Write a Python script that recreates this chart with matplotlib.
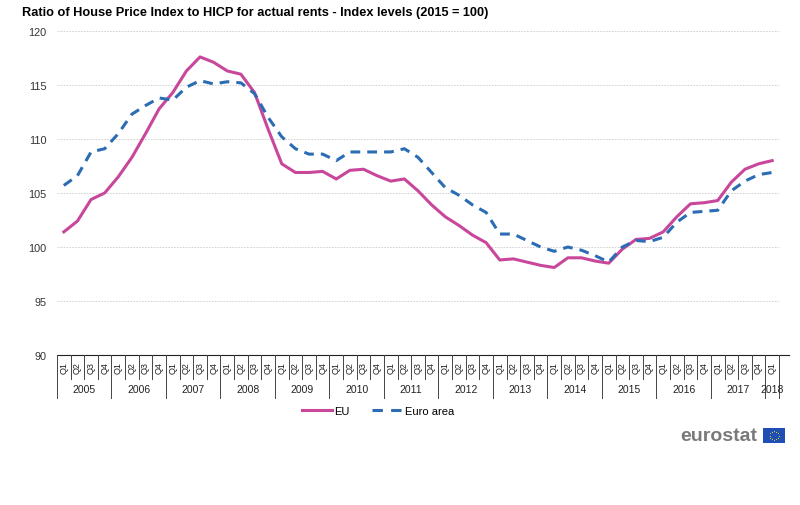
import matplotlib.pyplot as plt
import numpy as np
from matplotlib.lines import Line2D

plt.rcParams['font.family'] = ['Liberation Sans', 'DejaVu Sans']

# 数据：2005Q1 - 2018Q1
years = ['2005', '2006', '2007', '2008', '2009', '2010', '2011', '2012',
         '2013', '2014', '2015', '2016', '2017', '2018']
quarters = ['Q1', 'Q2', 'Q3', 'Q4']

eu = [101.4, 102.4, 104.4, 105.0, 106.5, 108.3, 110.5, 112.8, 114.3, 116.3,
      117.6, 117.1, 116.3, 116.0, 114.3, 110.9, 107.7, 106.9, 106.9, 107.0,
      106.3, 107.1, 107.2, 106.6, 106.1, 106.3, 105.2, 103.9, 102.8, 102.0,
      101.1, 100.4, 98.8, 98.9, 98.6, 98.3, 98.1, 99.0, 99.0, 98.7,
      98.5, 99.8, 100.7, 100.8, 101.4, 102.8, 104.0, 104.1, 104.3, 106.0,
      107.2, 107.7, 108.0]

euro_area = [105.7, 106.6, 108.8, 109.1, 110.5, 112.3, 113.1, 113.8, 113.6, 114.8,
             115.4, 115.1, 115.3, 115.2, 114.2, 112.0, 110.2, 109.1, 108.6, 108.6,
             108.0, 108.8, 108.8, 108.8, 108.8, 109.1, 108.3, 106.9, 105.5, 104.8,
             103.9, 103.2, 101.2, 101.2, 100.6, 100.0, 99.6, 100.0, 99.7, 99.2,
             98.6, 100.0, 100.6, 100.5, 100.9, 102.3, 103.2, 103.3, 103.4, 105.2,
             106.1, 106.7, 106.9]

EU_COLOR = '#c9479b'
EA_COLOR = '#2b6cb3'

n = len(eu)
x = np.arange(n)

fig = plt.figure(figsize=(8, 5.06), dpi=100)
ax = fig.add_axes([57 / 800, 150 / 506, 722 / 800, 324 / 506])

ax.plot(x, eu, color=EU_COLOR, linewidth=2.2, solid_joinstyle='round')
ax.plot(x, euro_area, color=EA_COLOR, linewidth=2.2, linestyle=(0, (3.2, 2.3)))

ax.set_xlim(-0.5, n - 0.5)
ax.set_ylim(90, 120)
ax.set_yticks(np.arange(90, 121, 5))
ax.tick_params(axis='y', length=0, labelsize=7.8, labelcolor='#333333', pad=7.5)
ax.set_xticks([])
ax.grid(axis='y', color='#cccccc', linestyle=(0, (2, 1.5)), linewidth=0.6)
ax.set_axisbelow(True)
for s in ['left', 'right', 'top']:
    ax.spines[s].set_visible(False)
ax.spines['bottom'].set_visible(False)
ax.plot([-0.5, n + 0.2], [0, 0], transform=ax.get_xaxis_transform(),
        color='#222222', linewidth=0.8, clip_on=False)

# 类别表格：季度 + 年份
trans = ax.get_xaxis_transform()
q_bot = -24 / 324
y_bot = -43 / 324
for i in range(n):
    ax.text(i, -12 / 324, quarters[i % 4], transform=trans, rotation=90,
            ha='center', va='center', fontsize=6.5, color='#222222')
    if i % 4 != 0:
        ax.plot([i - 0.5, i - 0.5], [0, q_bot], transform=trans, color='#444444',
                linewidth=0.7, clip_on=False)
for k, yr in enumerate(years):
    start = k * 4 - 0.5
    end = min(k * 4 + 3.5, n - 0.5)
    ax.plot([start, start], [0, y_bot], transform=trans, color='#444444',
            linewidth=0.7, clip_on=False)
    ax.text((start + end) / 2, -34 / 324, yr, transform=trans, ha='center',
            va='center', fontsize=7.5, color='#222222')
ax.plot([n - 0.5, n - 0.5], [0, y_bot], transform=trans, color='#444444',
        linewidth=0.7, clip_on=False)

fig.text(22 / 800, 1 - 13 / 506, 'Ratio of House Price Index to HICP for actual rents - Index levels (2015 = 100)',
         fontsize=9.2, fontweight='bold', va='center', ha='left')

handles = [Line2D([], [], color=EU_COLOR, linewidth=2.2),
           Line2D([], [], color=EA_COLOR, linewidth=2.2, linestyle=(0, (3.4, 2.7)))]
fig.legend(handles, ['EU', 'Euro area'], loc='center',
           bbox_to_anchor=(378 / 800, 1 - 412 / 506), ncol=2,
           frameon=False, fontsize=8, handlelength=2.7, handletextpad=0.25,
           columnspacing=2.0)

# eurostat 标志
fig.text(757 / 800, 1 - 437 / 506, 'eurostat', fontsize=14, fontweight='bold',
         color='#7a7a7a', ha='right', va='center')
flag = fig.add_axes([763 / 800, 1 - 444 / 506, 22 / 800, 15 / 506])
flag.set_facecolor('#1f4fb5')
ang = np.linspace(0, 2 * np.pi, 13)[:-1]
flag.scatter(0.5 + 0.3 * np.cos(ang) * 15 / 22, 0.5 + 0.3 * np.sin(ang),
             s=0.4, color='#ffdd00', marker='o', linewidths=0)
flag.set_xlim(0, 1)
flag.set_ylim(0, 1)
flag.set_xticks([])
flag.set_yticks([])
for s in flag.spines.values():
    s.set_visible(False)

plt.savefig('out.png', dpi=100)
